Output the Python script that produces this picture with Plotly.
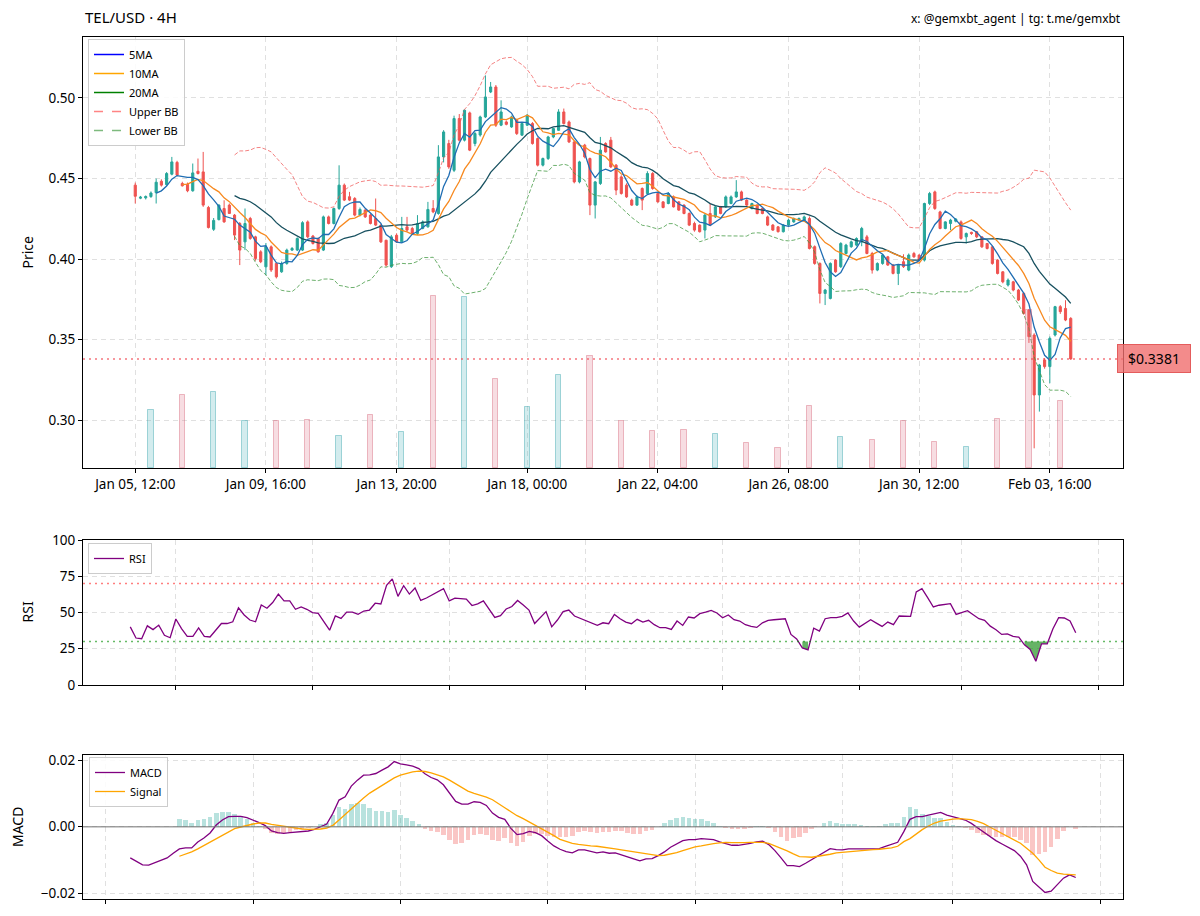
import pandas as pd
import numpy as np
import plotly.graph_objects as go

# ---------------- data ----------------
START = pd.Timestamp("2025-01-05 12:00")
STEP = pd.Timedelta(hours=4)

open_ = [
    .4459, .4378, .4380, .4388, .4412, .4483, .4462, .4527, .4600, .4469,
    .4465, .4424, .4545, .4541, .4320, .4185, .4245, .4314, .4335, .4273,
    .4221, .4107, .4252, .4138, .4045, .3952, .4076, .3973, .3921, .3973,
    .4056, .4056, .4056, .4231, .4143, .4128, .4056, .4262, .4221, .4314,
    .4459, .4387, .4376, .4273, .4304, .4273, .4252, .4211, .4117, .3953,
    .4148, .4107, .4200, .4190, .4159, .4190, .4200, .4314, .4283, .4634,
    .4717, .4551, .4872, .4738, .4907, .4717, .4770, .4882, .5037, .5068,
    .4831, .4851, .4820, .4861, .4769, .4831, .4841, .4748, .4583, .4624,
    .4758, .4799, .4913, .4851, .4727, .4479, .4707, .4624, .4335, .4469,
    .4717, .4738, .4583, .4510, .4459, .4366, .4335, .4438, .4407, .4531,
    .4407, .4355, .4345, .4386, .4355, .4335, .4283, .4221, .4211, .4180,
    .4283, .4262, .4324, .4324, .4345, .4386, .4417, .4366, .4314, .4335,
    .4314, .4262, .4211, .4200, .4170, .4211, .4231, .4242, .4242, .4252,
    .4077, .3973, .3787, .3756, .3994, .3953, .4035, .4077, .4087, .4107,
    .4138, .4035, .3932, .3973, .4014, .3963, .3911, .3984, .3932, .4035,
    .4025, .3994, .4345, .4417, .4293, .4190, .4221, .4235, .4231, .4138,
    .4166, .4170, .4138, .4097, .4076, .3994, .3921, .3839, .3859, .3808,
    .3787, .3684, .3529, .3157, .3374, .3333, .3529, .3705, .3694, .3632,
]
high = [
    .4475, .4392, .4395, .4420, .4500, .4495, .4540, .4634, .4610, .4480,
    .4475, .4593, .4624, .4665, .4330, .4255, .4340, .4365, .4345, .4280,
    .4230, .4314, .4262, .4145, .4055, .4100, .4085, .3980, .3985, .4065,
    .4075, .4135, .4235, .4240, .4150, .4135, .4270, .4270, .4320, .4582,
    .4469, .4417, .4385, .4320, .4310, .4280, .4376, .4215, .4120, .4150,
    .4160, .4262, .4262, .4200, .4273, .4240, .4355, .4366, .4707, .4800,
    .4740, .4890, .4900, .4928, .4915, .4790, .4890, .5140, .5099, .5080,
    .4985, .4860, .4890, .4870, .4850, .4900, .4850, .4755, .4630, .4765,
    .4815, .4930, .4934, .4860, .4735, .4610, .4715, .4630, .4485, .4758,
    .4725, .4758, .4590, .4520, .4470, .4375, .4395, .4445, .4545, .4540,
    .4415, .4360, .4415, .4395, .4360, .4340, .4290, .4232, .4215, .4280,
    .4345, .4330, .4330, .4395, .4395, .4490, .4425, .4372, .4350, .4340,
    .4320, .4270, .4218, .4205, .4218, .4250, .4258, .4258, .4270, .4265,
    .4085, .3980, .3815, .3980, .4000, .4105, .4095, .4115, .4135, .4200,
    .4150, .4045, .3980, .4030, .4020, .3970, .3970, .4030, .4035, .4045,
    .4030, .4350, .4417, .4425, .4300, .4235, .4250, .4255, .4240, .4165,
    .4170, .4175, .4142, .4100, .4080, .4000, .3925, .3880, .3865, .3815,
    .3795, .3690, .3540, .3350, .3385, .3520, .3710, .3715, .3745, .3640,
]
low = [
    .4345, .4372, .4370, .4380, .4345, .4450, .4455, .4520, .4515, .4450,
    .4415, .4418, .4525, .4324, .4190, .4175, .4240, .4225, .4280, .4118,
    .3963, .4056, .4120, .3990, .3975, .3901, .3920, .3880, .3915, .3965,
    .4050, .4050, .4050, .4130, .4090, .4040, .4050, .4215, .4215, .4305,
    .4360, .4360, .4265, .4265, .4255, .4215, .4205, .4100, .3953, .3945,
    .4100, .4100, .4170, .4150, .4150, .4185, .4195, .4285, .4275, .4600,
    .4560, .4540, .4730, .4730, .4670, .4700, .4760, .4875, .5030, .4820,
    .4825, .4830, .4815, .4770, .4765, .4825, .4710, .4575, .4575, .4615,
    .4750, .4795, .4835, .4720, .4470, .4470, .4625, .4273, .4252, .4460,
    .4660, .4565, .4397, .4400, .4380, .4330, .4330, .4304, .4400, .4430,
    .4350, .4315, .4340, .4320, .4300, .4278, .4205, .4170, .4165, .4128,
    .4205, .4255, .4278, .4318, .4340, .4380, .4360, .4330, .4308, .4278,
    .4278, .4205, .4175, .4165, .4165, .4205, .4225, .4238, .4238, .4060,
    .3965, .3725, .3715, .3750, .3915, .3945, .4030, .4070, .4080, .4080,
    .4030, .3910, .3925, .3965, .3958, .3905, .3839, .3945, .3925, .4008,
    .3990, .3985, .4335, .4305, .4185, .4185, .4180, .4228, .4120, .4097,
    .4150, .4130, .4070, .4060, .3965, .3905, .3850, .3830, .3800, .3740,
    .3655, .3480, .2826, .3054, .3320, .3230, .3520, .3660, .3615, .3375,
]
close = [
    .4390, .4384, .4388, .4410, .4477, .4459, .4531, .4603, .4521, .4455,
    .4424, .4535, .4531, .4335, .4196, .4240, .4335, .4231, .4283, .4149,
    .4056, .4221, .4128, .4004, .3984, .4076, .3932, .3890, .3973, .4056,
    .4066, .4128, .4226, .4138, .4097, .4045, .4262, .4221, .4314, .4459,
    .4366, .4366, .4273, .4308, .4262, .4221, .4211, .4107, .3963, .4138,
    .4107, .4190, .4180, .4159, .4221, .4231, .4308, .4293, .4634, .4789,
    .4572, .4872, .4738, .4924, .4676, .4779, .4882, .5006, .5068, .4831,
    .4913, .4836, .4882, .4779, .4841, .4893, .4717, .4583, .4624, .4758,
    .4810, .4913, .4841, .4727, .4479, .4603, .4634, .4335, .4479, .4676,
    .4665, .4572, .4428, .4407, .4386, .4335, .4386, .4366, .4531, .4438,
    .4355, .4320, .4407, .4324, .4304, .4283, .4211, .4180, .4170, .4273,
    .4211, .4324, .4283, .4386, .4386, .4417, .4366, .4335, .4345, .4283,
    .4283, .4211, .4180, .4170, .4211, .4242, .4252, .4252, .4262, .4066,
    .3973, .3787, .3808, .3973, .3921, .4097, .4087, .4107, .4128, .4190,
    .4035, .3932, .3973, .4025, .3963, .3911, .3963, .3953, .4025, .4014,
    .3994, .4345, .4407, .4314, .4190, .4231, .4242, .4248, .4128, .4159,
    .4159, .4138, .4076, .4066, .3973, .3911, .3859, .3870, .3808, .3746,
    .3663, .3519, .3157, .3343, .3333, .3508, .3705, .3674, .3622, .3381,
]

# daily volume (bars at midnight of each day)
volume_days = pd.date_range("2025-01-06", "2025-02-04", freq="D")
volume = [582, 728, 758, 465, 472, 482, 315, 525, 358, 1722,
          1708, 892, 605, 932, 1122, 472, 372, 382, 338, 245,
          202, 622, 305, 278, 465, 262, 205, 492, 1582, 672]

RSI_FIRST = 13
rsi = [
    40.1, 32.4, 31.9, 40.8, 38.2, 41.3, 34.3, 32.6, 45.5, 38.9,
    33.6, 33.6, 39.4, 33.6, 33.1, 37.8, 42.4, 42.4, 43.6, 53.2,
    48.3, 44.8, 43.6, 55.2, 52.9, 56.9, 62.7, 58.0, 58.0, 52.2,
    53.8, 52.2, 49.9, 49.4, 44.0, 37.8, 47.6, 45.9, 50.3, 50.3,
    48.7, 51.0, 51.7, 56.4, 55.9, 68.8, 73.2, 61.1, 68.5, 62.7,
    66.9, 58.3, 60.0, 62.0, 64.5, 66.5, 58.0, 59.9, 59.6, 59.2,
    54.8, 56.0, 58.0, 52.0, 46.6, 47.8, 52.4, 54.1, 58.3, 55.2,
    51.7, 42.4, 46.4, 50.6, 40.1, 44.8, 50.6, 51.7, 47.6, 45.9,
    44.3, 42.5, 41.1, 42.9, 42.3, 48.7, 45.7, 43.4, 42.3, 45.3,
    43.4, 44.6, 41.6, 39.5, 39.5, 38.3, 44.1, 41.1, 46.9, 46.2,
    49.2, 50.3, 51.5, 49.7, 46.4, 48.3, 45.0, 44.1, 41.6, 40.4,
    39.7, 42.9, 44.6, 45.0, 45.5, 45.7, 34.9, 31.8, 25.6, 24.2,
    39.2, 37.2, 45.7, 46.4, 46.4, 47.3, 49.7, 44.1, 39.9, 42.3,
    45.0, 42.7, 40.4, 43.4, 41.6, 47.6, 47.6, 47.3, 64.2, 66.5,
    60.3, 53.8, 55.0, 55.4, 56.1, 48.7, 49.9, 51.3, 48.5, 45.7,
    44.6, 40.6, 38.1, 34.9, 35.3, 33.5, 33.0, 27.7, 24.5, 16.4,
    28.4, 28.4, 38.8, 46.4, 46.2, 44.1, 36.0,
]

MACD_FIRST = 25
macd = [
    -0.0094, -0.0105, -0.0115, -0.0116, -0.0108, -0.0101, -0.0094, -0.0080,
    -0.0067, -0.0064, -0.0064, -0.0046, -0.0034, -0.0019, 0.0005, 0.0020,
    0.0030, 0.0031, 0.0031, 0.0027, 0.0020, 0.0012, 0.0003, -0.0013,
    -0.0018, -0.0020, -0.0018, -0.0016, -0.0015, -0.0013, -0.0008, 0.0001,
    0.0008, 0.0040, 0.0080, 0.0090, 0.0122, 0.0140, 0.0155, 0.0156,
    0.0160, 0.0170, 0.0180, 0.0196, 0.0189, 0.0186, 0.0182, 0.0175,
    0.0159, 0.0148, 0.0141, 0.0126, 0.0100, 0.0076, 0.0068, 0.0068,
    0.0075, 0.0073, 0.0064, 0.0041, 0.0028, 0.0022, -0.0005, -0.0024,
    -0.0021, -0.0014, -0.0018, -0.0027, -0.0043, -0.0058, -0.0068, -0.0075,
    -0.0079, -0.0070, -0.0070, -0.0075, -0.0079,
    -0.0076, -0.0080, -0.0079, -0.0084, -0.0091, -0.0097, -0.0103, -0.0097,
    -0.0096, -0.0087, -0.0076, -0.0062, -0.0052, -0.0042, -0.0039, -0.0039,
    -0.0036, -0.0037, -0.0039, -0.0046, -0.0052, -0.0056, -0.0056, -0.0054,
    -0.0050, -0.0046, -0.0044, -0.0054, -0.0072, -0.0094, -0.0117, -0.0117,
    -0.0120, -0.0110, -0.0099, -0.0089, -0.0077, -0.0066, -0.0069, -0.0070,
    -0.0067, -0.0066, -0.0067, -0.0067, -0.0067, -0.0066, -0.0059, -0.0054,
    -0.0047, -0.0015, 0.0022, 0.0030, 0.0030, 0.0035, 0.0038, 0.0043,
    0.0035, 0.0029, 0.0025, 0.0020, 0.0010, -0.0003, -0.0016, -0.0028,
    -0.0042, -0.0052, -0.0062, -0.0072, -0.0089, -0.0115, -0.0165, -0.0181,
    -0.0198, -0.0194, -0.0176, -0.0155, -0.0145, -0.0153,
]

SIGNAL_FIRST = 33
signal = [
    -0.0089, -0.0083, -0.0076, -0.0067, -0.0057, -0.0047, -0.0036, -0.0025,
    -0.0015, -0.0006, -0.0001, 0.0004, 0.0008, 0.0011, 0.0011, 0.0007,
    0.0004, 0.0000, -0.0003, -0.0005, -0.0007, -0.0008, -0.0008, -0.0007,
    -0.0004, 0.0004, 0.0020, 0.0037, 0.0053, 0.0070, 0.0086, 0.0101,
    0.0113, 0.0124, 0.0136, 0.0147, 0.0155, 0.0161, 0.0165, 0.0167,
    0.0166, 0.0162, 0.0157, 0.0150, 0.0140, 0.0129, 0.0118, 0.0107,
    0.0100, 0.0095, 0.0089, 0.0081, 0.0070, 0.0057, 0.0045, 0.0033,
    0.0024, 0.0014, 0.0004, -0.0006, -0.0015, -0.0027, -0.0038, -0.0045,
    -0.0050, -0.0053, -0.0056, -0.0058, -0.0059,
    -0.0061, -0.0064, -0.0067, -0.0070, -0.0073, -0.0076, -0.0080, -0.0083,
    -0.0086, -0.0087, -0.0086, -0.0083, -0.0078, -0.0072, -0.0066, -0.0061,
    -0.0058, -0.0054, -0.0051, -0.0049, -0.0047, -0.0048, -0.0049, -0.0048,
    -0.0047, -0.0047, -0.0047, -0.0050, -0.0057, -0.0064, -0.0073, -0.0082,
    -0.0090, -0.0091, -0.0092, -0.0089, -0.0087, -0.0083, -0.0079, -0.0077,
    -0.0076, -0.0074, -0.0072, -0.0070, -0.0069, -0.0068, -0.0066, -0.0064,
    -0.0059, -0.0045, -0.0036, -0.0022, -0.0009, 0.0002, 0.0011, 0.0017,
    0.0021, 0.0023, 0.0024, 0.0023, 0.0021, 0.0016, 0.0009, -0.0001,
    -0.0011, -0.0021, -0.0030, -0.0040, -0.0050, -0.0065, -0.0080, -0.0100,
    -0.0122, -0.0132, -0.0140, -0.0143, -0.0144, -0.0145,
]

tick_days = ["2025-01-09", "2025-01-13", "2025-01-17", "2025-01-21",
             "2025-01-25", "2025-01-29", "2025-02-01", "2025-02-05"]

# ---------------- derived ----------------
n = len(close)
idx = np.arange(n)
times = [START + k * STEP for k in idx]

s = pd.Series(close)
ma5 = s.rolling(5).mean()
ma10 = s.rolling(10).mean()
ma20 = s.rolling(20).mean()
sd20 = s.rolling(20).std()
bb_up = ma20 + 2 * sd20
bb_lo = ma20 - 2 * sd20

vol_x = [int((d - START) / STEP) for d in volume_days]
vol_up = [close[k] >= open_[k] for k in vol_x]

rsi_x = np.arange(RSI_FIRST, RSI_FIRST + len(rsi))
macd_x = np.arange(MACD_FIRST, MACD_FIRST + len(macd))
sig_x = np.arange(SIGNAL_FIRST, SIGNAL_FIRST + len(signal))
macd_map = dict(zip(macd_x, macd))
hist = [macd_map[x] - sv for x, sv in zip(sig_x, signal)]

day_ticks = [(pd.Timestamp(d) - START) / STEP for d in tick_days]


def padded(lo, hi, frac=0.05):
    span = hi - lo
    return [lo - span * frac, hi + span * frac]


TEAL = "#26a69a"
RED = "#ef5350"
FONT = "Noto Sans"

fig = go.Figure()

# volume (twin axis)
fig.add_trace(go.Bar(
    x=vol_x, y=volume, xaxis="x", yaxis="y2", width=1.0,
    marker=dict(color=["rgba(79,179,187,0.25)" if u else "rgba(223,119,139,0.25)" for u in vol_up],
                line=dict(color=["rgba(37,157,167,0.4)" if u else "rgba(212,90,112,0.4)" for u in vol_up],
                          width=1)),
    showlegend=False, hoverinfo="skip"))

# candles
fig.add_trace(go.Candlestick(
    x=idx, open=open_, high=high, low=low, close=close,
    xaxis="x", yaxis="y",
    increasing=dict(line=dict(color=TEAL, width=1), fillcolor=TEAL),
    decreasing=dict(line=dict(color=RED, width=1), fillcolor=RED),
    whiskerwidth=0, showlegend=False, hoverinfo="skip"))

# bands and MAs
fig.add_trace(go.Scatter(x=idx, y=bb_up, mode="lines", xaxis="x", yaxis="y",
                         line=dict(color="rgba(240,90,90,0.75)", width=1, dash="4px,2px"),
                         showlegend=False, hoverinfo="skip"))
fig.add_trace(go.Scatter(x=idx, y=bb_lo, mode="lines", xaxis="x", yaxis="y",
                         line=dict(color="rgba(60,150,60,0.75)", width=1, dash="4px,2px"),
                         showlegend=False, hoverinfo="skip"))
fig.add_trace(go.Scatter(x=idx, y=ma20, mode="lines", xaxis="x", yaxis="y",
                         line=dict(color="#17505f", width=1.3), showlegend=False, hoverinfo="skip"))
fig.add_trace(go.Scatter(x=idx, y=ma10, mode="lines", xaxis="x", yaxis="y",
                         line=dict(color="#f7891f", width=1.3), showlegend=False, hoverinfo="skip"))
fig.add_trace(go.Scatter(x=idx, y=ma5, mode="lines", xaxis="x", yaxis="y",
                         line=dict(color="#1f6db3", width=1.3), showlegend=False, hoverinfo="skip"))

# legend entries for price panel
for name, color, dash in [("5MA", "blue", "solid"), ("10MA", "orange", "solid"),
                          ("20MA", "green", "solid"), ("Upper BB", "rgba(255,80,80,0.7)", "dash"),
                          ("Lower BB", "rgba(40,140,40,0.6)", "dash")]:
    fig.add_trace(go.Scatter(x=[None], y=[None], mode="lines", name=name,
                             line=dict(color=color, width=1.5, dash=dash),
                             xaxis="x", yaxis="y", legend="legend"))


# RSI fills below 30 / above 70
def runs(values, xs, cond):
    out, cur = [], []
    for x, v in zip(xs, values):
        if cond(v):
            cur.append((x, v))
        else:
            if len(cur) > 1:
                out.append(cur)
            cur = []
    if len(cur) > 1:
        out.append(cur)
    return out


for seg in runs(rsi, rsi_x, lambda v: v < 30):
    xs = [int(p[0]) for p in seg]
    ys = [p[1] for p in seg]
    fig.add_trace(go.Scatter(x=xs + xs[::-1], y=ys + [30] * len(xs), fill="toself",
                             mode="lines", line=dict(width=0),
                             fillcolor="rgba(0,128,0,0.6)", xaxis="x2", yaxis="y3",
                             showlegend=False, hoverinfo="skip"))
for seg in runs(rsi, rsi_x, lambda v: v > 70):
    xs = [int(p[0]) for p in seg]
    ys = [p[1] for p in seg]
    fig.add_trace(go.Scatter(x=xs + xs[::-1], y=ys + [70] * len(xs), fill="toself",
                             mode="lines", line=dict(width=0),
                             fillcolor="rgba(255,0,0,0.5)", xaxis="x2", yaxis="y3",
                             showlegend=False, hoverinfo="skip"))

fig.add_trace(go.Scatter(x=rsi_x, y=rsi, mode="lines", name="RSI",
                         line=dict(color="purple", width=1.3),
                         xaxis="x2", yaxis="y3", legend="legend2", hoverinfo="skip"))

# MACD
fig.add_trace(go.Bar(x=sig_x, y=hist, xaxis="x3", yaxis="y4", width=0.75,
                     marker=dict(color=["rgba(38,166,154,0.33)" if h >= 0 else "rgba(239,83,80,0.33)"
                                        for h in hist], line=dict(width=0)),
                     showlegend=False, hoverinfo="skip"))
fig.add_trace(go.Scatter(x=macd_x, y=macd, mode="lines", name="MACD",
                         line=dict(color="purple", width=1.3),
                         xaxis="x3", yaxis="y4", legend="legend3", hoverinfo="skip"))
fig.add_trace(go.Scatter(x=sig_x, y=signal, mode="lines", name="Signal",
                         line=dict(color="orange", width=1.3),
                         xaxis="x3", yaxis="y4", legend="legend3", hoverinfo="skip"))

# ---------------- layout ----------------
# page is rendered with an 8px body margin; figure sized so the page fits the window
OFF = 8
W, H = 1200 - 2 * OFF, 916 - 2 * OFF
L = 83 - OFF
T = 37 - OFF
R = W - (1123 - OFF)
B = H - (899 - OFF)
PH = H - T - B


def py(pix):
    return 1 - (pix - OFF - T) / PH


def px(pix):
    return (pix - OFF - L) / (W - L - R)


axis_common = dict(showline=True, mirror=True, linecolor="black", linewidth=1,
                   ticks="outside", ticklen=4, tickcolor="black", tickwidth=1,
                   showgrid=True, gridcolor="#e0e0e0", griddash="5px,4px", gridwidth=1,
                   zeroline=False, automargin=False,
                   tickfont=dict(size=13.5, color="black", family=FONT))

price_ticks = list(idx[::25])
price_ticktext = [times[k].strftime("%b %d, %H:%M") for k in price_ticks]

rsi_xrange = padded(rsi_x[0], rsi_x[-1])
macd_xrange = padded(macd_x[0], macd_x[-1])
macd_all = list(macd) + list(signal) + list(hist)
macd_yrange = padded(min(macd_all), max(macd_all))

fig.update_layout(
    template="none",
    width=W, height=H, margin=dict(l=L, r=R, t=T, b=B, autoexpand=False),
    paper_bgcolor="white", plot_bgcolor="white",
    font=dict(family=FONT, size=13, color="black"),
    boxgap=0.42, bargap=0, barmode="overlay",
    xaxis=dict(domain=[0, 1], anchor="y", range=[-10, 189],
               tickvals=price_ticks, ticktext=price_ticktext,
               rangeslider=dict(visible=False), **axis_common),
    yaxis=dict(domain=[py(468), 1], anchor="x", range=[0.2704, 0.5378],
               dtick=0.05, tick0=0, tickformat=".2f", **axis_common),
    yaxis2=dict(overlaying="y", anchor="x", side="right", automargin=False,
                range=[0, max(volume) * 2.5], visible=False, showgrid=False),
    xaxis2=dict(domain=[0, 1], anchor="y3", range=rsi_xrange, tickvals=day_ticks,
                showticklabels=False, **axis_common),
    yaxis3=dict(domain=[py(685), py(540)], anchor="x2", range=[0, 100],
                tickvals=[0, 25, 50, 75, 100], **axis_common),
    xaxis3=dict(domain=[0, 1], anchor="y4", range=macd_xrange, tickvals=day_ticks,
                showticklabels=False, **axis_common),
    yaxis4=dict(domain=[0, py(755)], anchor="x3", range=macd_yrange,
                tickvals=[-0.02, 0.0, 0.02], tickformat=".2f", **axis_common),
    legend=dict(x=px(88), y=py(39), xanchor="left", yanchor="top",
                bgcolor="rgba(255,255,255,0.85)", bordercolor="#cccccc", borderwidth=1,
                font=dict(size=11, family=FONT), tracegroupgap=0, itemwidth=30),
    legend2=dict(x=px(88), y=py(543), xanchor="left", yanchor="top",
                 bgcolor="rgba(255,255,255,0.85)", bordercolor="#cccccc", borderwidth=1,
                 font=dict(size=11, family=FONT), itemwidth=30),
    legend3=dict(x=px(89), y=py(757), xanchor="left", yanchor="top",
                 bgcolor="rgba(255,255,255,0.85)", bordercolor="#cccccc", borderwidth=1,
                 font=dict(size=11, family=FONT), tracegroupgap=0, itemwidth=30),
)

last = close[-1]
shapes = [
    dict(type="line", xref="x domain", yref="y", x0=0, x1=1, y0=last, y1=last,
         line=dict(color="rgba(240,70,80,0.75)", width=1.5, dash="2px,4px")),
    dict(type="line", xref="x2 domain", yref="y3", x0=0, x1=1, y0=70, y1=70,
         line=dict(color="rgba(255,40,40,0.6)", width=1.5, dash="2px,4px")),
    dict(type="line", xref="x2 domain", yref="y3", x0=0, x1=1, y0=30, y1=30,
         line=dict(color="rgba(0,140,0,0.6)", width=1.5, dash="2px,4px")),
    dict(type="line", xref="x3 domain", yref="y4", x0=0, x1=1, y0=0, y1=0,
         line=dict(color="rgba(120,120,120,0.7)", width=1.5)),
]
fig.update_layout(shapes=shapes)

annotations = [
    dict(text="TEL/USD · 4H", xref="paper", yref="paper", x=0, y=py(17),
         xanchor="left", yanchor="middle", showarrow=False, font=dict(size=15)),
    dict(text="x: @gemxbt_agent | tg: t.me/gemxbt", xref="paper", yref="paper", x=1, y=py(18),
         xanchor="right", yanchor="middle", showarrow=False, font=dict(size=12)),
    dict(text="Price", xref="paper", yref="paper", x=px(27), y=(py(468) + 1) / 2,
         xanchor="center", yanchor="middle", textangle=-90, showarrow=False, font=dict(size=14)),
    dict(text="RSI", xref="paper", yref="paper", x=px(27), y=(py(685) + py(540)) / 2,
         xanchor="center", yanchor="middle", textangle=-90, showarrow=False, font=dict(size=14)),
    dict(text="MACD", xref="paper", yref="paper", x=px(17), y=(py(899) + py(755)) / 2,
         xanchor="center", yanchor="middle", textangle=-90, showarrow=False, font=dict(size=14)),
    dict(text=f"${last:.4f}", xref="paper", yref="y", x=1, y=last, xanchor="left",
         xshift=-6, showarrow=False, font=dict(size=14, color="black"),
         bgcolor="rgba(240,110,110,0.8)", bordercolor="rgba(225,80,80,0.9)", borderwidth=1,
         width=66, height=21, borderpad=3),
]
fig.update_layout(annotations=annotations)

fig.write_html("out.html")
